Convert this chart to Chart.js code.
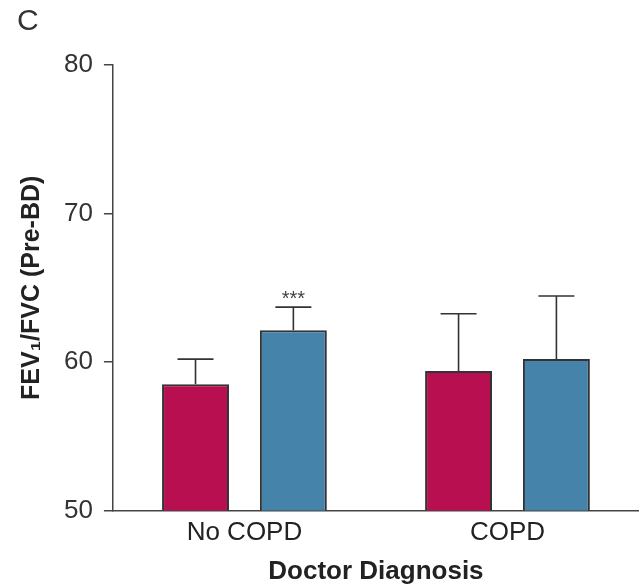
<!DOCTYPE html>
<html>
<head>
<meta charset="utf-8">
<script src="https://cdn.jsdelivr.net/npm/chart.js@4.4.0/dist/chart.umd.min.js"></script>
<style>
  html, body { margin: 0; padding: 0; background: #fff; }
  #wrap { width: 639px; height: 587px; position: relative; }
</style>
</head>
<body>
<div id="wrap"><canvas id="fevChart"></canvas></div>
<script>
// values
var categories = ['No COPD', 'COPD'];
var redMeans = [58.5, 59.4];
var blueMeans = [62.15, 60.2];
var redUpper = [60.2, 63.25];
var blueUpper = [63.7, 64.45];
var blueMarks = ['***', ''];
var redMarks = ['', ''];
var yMin = 50, yMax = 80, yStep = 10;

var axisColor = '#444';
var fontFamily = '"Liberation Sans", Arial, Helvetica, sans-serif';

// upper-only error bars + significance stars
var errorBars = {
	id: 'errorBars',
	afterDatasetsDraw: function (chart) {
		var ctx = chart.ctx;
		var yScale = chart.scales.y;
		chart.data.datasets.forEach(function (ds, i) {
			var meta = chart.getDatasetMeta(i);
			meta.data.forEach(function (bar, j) {
				var yTop = yScale.getPixelForValue(ds.upper[j]);
				ctx.save();
				ctx.strokeStyle = '#333';
				ctx.lineWidth = 1.6;
				ctx.beginPath();
				ctx.moveTo(bar.x, bar.y);
				ctx.lineTo(bar.x, yTop);
				ctx.moveTo(bar.x - 18, yTop);
				ctx.lineTo(bar.x + 18, yTop);
				ctx.stroke();
				if (ds.marks[j]) {
					ctx.fillStyle = '#444';
					ctx.font = '20px ' + fontFamily;
					ctx.textAlign = 'center';
					ctx.textBaseline = 'middle';
					ctx.fillText(ds.marks[j], bar.x, yTop - 8);
				}
				ctx.restore();
			});
		});
	}
};

// panel letter
var panelLetter = {
	id: 'panelLetter',
	afterDraw: function (chart) {
		var ctx = chart.ctx;
		ctx.save();
		ctx.fillStyle = '#333';
		ctx.font = '30px ' + fontFamily;
		ctx.textBaseline = 'middle';
		ctx.fillText('C', 17, 22);
		ctx.restore();
	}
};

var ctx = document.getElementById('fevChart').getContext('2d');

var fevChart = new Chart(ctx, {
	type: 'bar',
	data: {
		labels: categories,
		datasets: [
			{
				label: 'Group 1',
				data: redMeans,
				upper: redUpper,
				marks: redMarks,
				backgroundColor: '#B70F4F',
				borderColor: '#333',
				borderWidth: 2
			},
			{
				label: 'Group 2',
				data: blueMeans,
				upper: blueUpper,
				marks: blueMarks,
				backgroundColor: '#4583AA',
				borderColor: '#333',
				borderWidth: 2
			}
		]
	},
	plugins: [errorBars, panelLetter],
	options: {
		responsive: true,
		maintainAspectRatio: false,
		animation: false,
		categoryPercentage: 0.744,
		barPercentage: 0.684,
		layout: {
			padding: { top: 65, left: 17, right: 0, bottom: 0 }
		},
		plugins: {
			legend: { display: false },
			tooltip: { enabled: false }
		},
		scales: {
			x: {
				grid: { display: false, drawTicks: false },
				border: { display: true, color: axisColor, width: 1.5 },
				ticks: {
					color: '#222',
					padding: 7,
					font: { family: fontFamily, size: 26 }
				},
				title: {
					display: true,
					text: 'Doctor Diagnosis',
					color: '#222',
					padding: { top: 0, bottom: 0 },
					font: { family: fontFamily, size: 26, weight: 'bold' }
				}
			},
			y: {
				min: yMin,
				max: yMax,
				grid: {
					drawOnChartArea: false,
					tickLength: 9,
					color: axisColor,
					lineWidth: 1.5
				},
				border: { display: true, color: axisColor, width: 1.5 },
				ticks: {
					stepSize: yStep,
					color: '#333',
					padding: 11,
					font: { family: fontFamily, size: 26 }
				},
				title: {
					display: true,
					text: 'FEV\u2081/FVC (Pre-BD)',
					color: '#222',
					padding: { top: 0, bottom: 6 },
					font: { family: fontFamily, size: 25, weight: 'bold' }
				}
			}
		}
	}
});
</script>
</body>
</html>
